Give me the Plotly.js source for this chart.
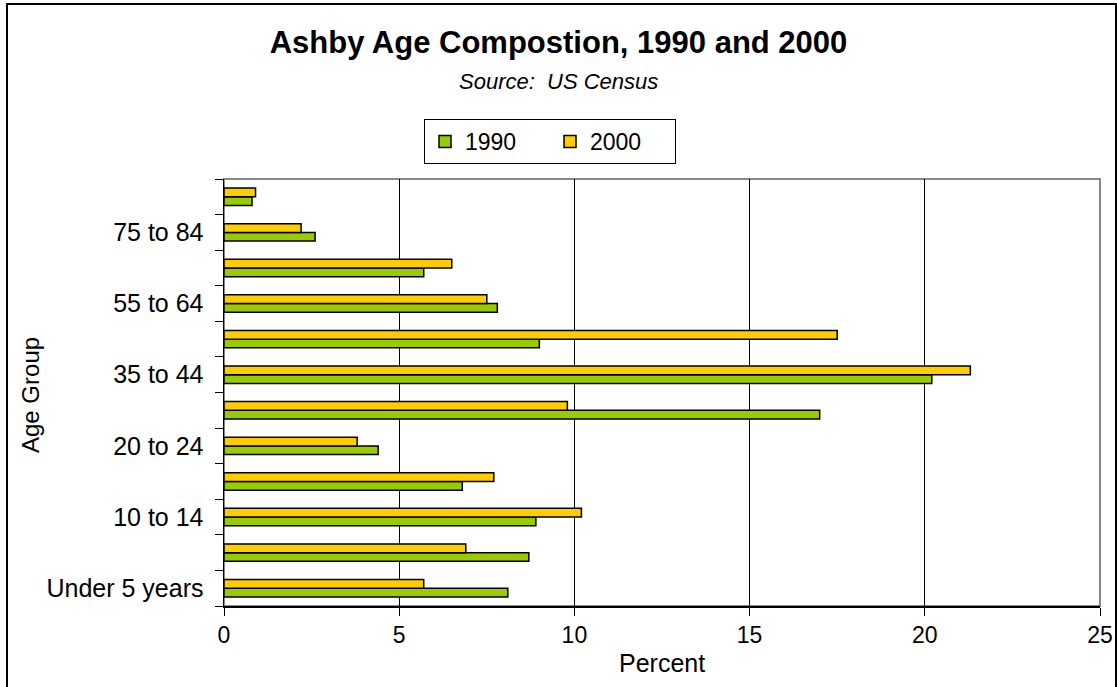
<!DOCTYPE html>
<html><head><meta charset="utf-8">
<script src="https://cdn.plot.ly/plotly-3.0.1.min.js"></script>
<style>
body{margin:0;background:#fff}
#wrap{position:relative;width:1117px;height:687px;overflow:hidden}
#chart{width:1117px;height:687px}
#frame{position:absolute;left:6px;top:3px;width:1107px;height:690px;border:2px solid #000;pointer-events:none}
</style>
</head><body>
<div id="wrap"><div id="chart"></div><div id="frame"></div></div>
<script>
const categories = ['Under 5 years','5 to 9','10 to 14','15 to 19','20 to 24','25 to 34','35 to 44','45 to 54','55 to 64','65 to 74','75 to 84','85 and over'];
const tickLabels = ['Under 5 years','','10 to 14','','20 to 24','','35 to 44','','55 to 64','','75 to 84',''];
const values1990 = [8.1, 8.7, 8.9, 6.8, 4.4, 17.0, 20.2, 9.0, 7.8, 5.7, 2.6, 0.8];
const values2000 = [5.7, 6.9, 10.2, 7.7, 3.8, 9.8, 21.3, 17.5, 7.5, 6.5, 2.2, 0.9];
const seriesNames = ['1990', '2000'];
const xTicks = [0, 5, 10, 15, 20, 25];

const FONT = 'Liberation Sans, Arial, sans-serif';
const L = 224, T = 179, PW = 876, PH = 427;
const px = x => (x - L) / PW;
const py = y => (T + PH - y) / PH;

const traces = [
  {type:'bar', orientation:'h', name:seriesNames[0], y:categories, x:values1990,
   marker:{color:'#99CC00', line:{color:'#000', width:1.5}}},
  {type:'bar', orientation:'h', name:seriesNames[1], y:categories, x:values2000,
   marker:{color:'#FFCC00', line:{color:'#000', width:1.5}}}
];

const layout = {
  width:1117, height:687,
  margin:{l:L, r:1117-L-PW, t:T, b:687-T-PH},
  paper_bgcolor:'#fff', plot_bgcolor:'#fff',
  font:{family:FONT, color:'#000', size:23},
  barmode:'group', bargap:0.51, bargroupgap:0,
  title:{text:'<b>Ashby Age Compostion, 1990 and 2000</b>', font:{family:FONT, size:31, color:'#000'},
         xref:'container', x:0.5, xanchor:'center', yref:'container', y:1-42/687, yanchor:'middle'},
  xaxis:{range:[0,25], tickvals:xTicks, ticktext:xTicks.map(String), showgrid:true, gridcolor:'#000', gridwidth:1,
         zeroline:false, showline:true, linecolor:'#000', linewidth:1.5, ticks:'outside', ticklen:8, tickcolor:'#000',
         tickfont:{size:23}, fixedrange:true},
  yaxis:{type:'category', categoryorder:'array', categoryarray:categories, tickvals:categories, ticktext:tickLabels,
         tickson:'boundaries', ticks:'outside', ticklen:8, tickcolor:'#000', showline:true, linecolor:'#000', linewidth:1.5,
         showgrid:false, tickfont:{size:25}, ticklabelstandoff:14, fixedrange:true},
  legend:{orientation:'h', x:px(550), xanchor:'center', y:py(119), yanchor:'top',
          bordercolor:'#000', borderwidth:1, bgcolor:'#fff', font:{size:23}, traceorder:'normal',
          itemwidth:30, entrywidth:80, entrywidthmode:'pixels'},
  shapes:[{type:'rect', xref:'paper', yref:'paper', x0:0, x1:1, y0:0, y1:1, line:{color:'#888', width:2}, layer:'below'}],
  annotations:[
    {text:'<i>Source:  US Census</i>', xref:'paper', yref:'paper', x:px(558.5), y:py(82), xanchor:'center', yanchor:'middle',
     showarrow:false, font:{size:22}},
    {text:'Percent', xref:'paper', yref:'paper', x:px(662), y:py(663), xanchor:'center', yanchor:'middle',
     showarrow:false, font:{size:25}},
    {text:'Age Group', xref:'paper', yref:'paper', x:px(30), y:py(395), xanchor:'center', yanchor:'middle',
     textangle:-90, showarrow:false, font:{size:24}}
  ],
  showlegend:true
};

Plotly.newPlot('chart', traces, layout, {displayModeBar:false, staticPlot:true});
</script>
</body></html>
